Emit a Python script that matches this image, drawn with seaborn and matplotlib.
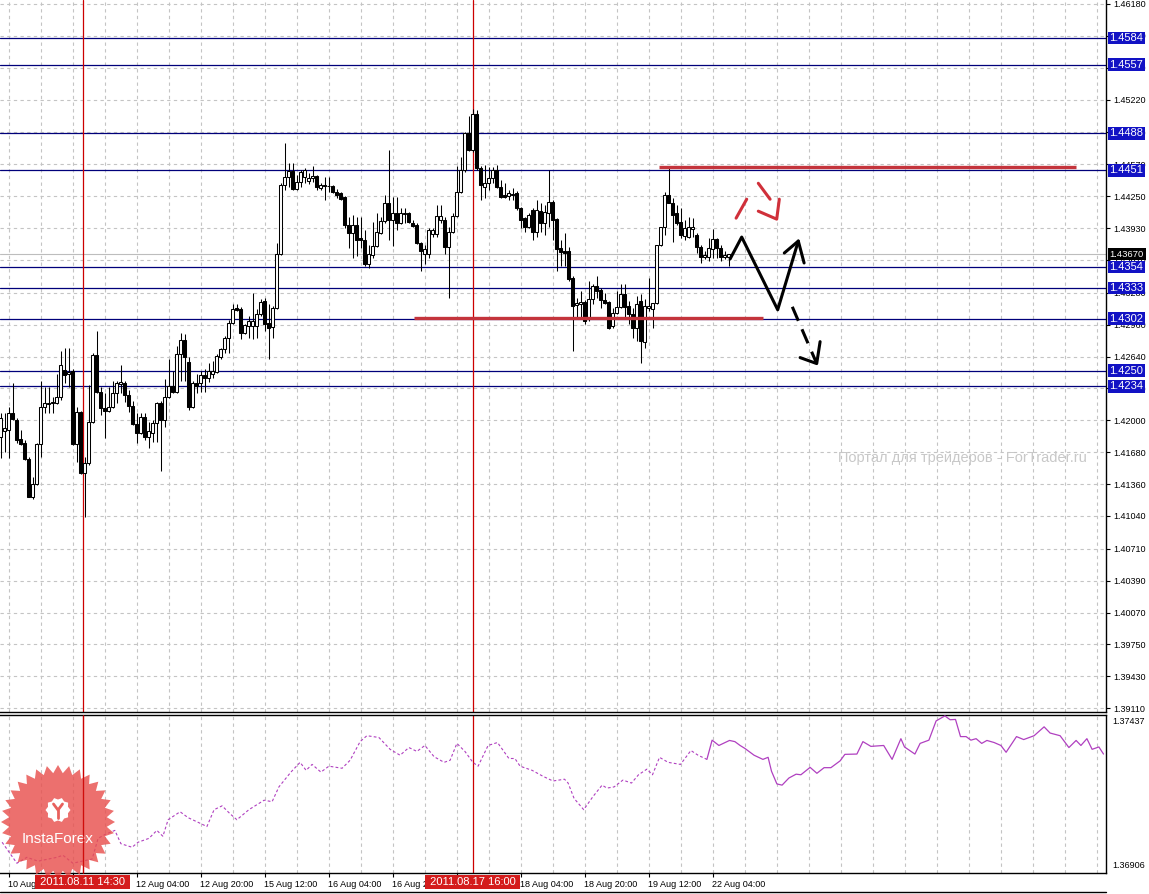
import numpy as np
import pandas as pd
import matplotlib
matplotlib.use("Agg")
import matplotlib.pyplot as plt
import matplotlib.transforms as mtrans
from matplotlib.patches import Polygon
from matplotlib.lines import Line2D
import seaborn as sns

sns.set_theme(style="white")
plt.rcParams['font.family'] = ['Liberation Sans', 'DejaVu Sans']

W, H = 1149, 894

# ---- H1 candles, one per bar (bar index 0 = 10 Aug 18:00) ----
bar_open = [
    1.4183, 1.4189, 1.4190, 1.4207, 1.4200, 1.4181, 1.4177, 1.4161, 1.4123, 1.4136,
    1.4176, 1.4213, 1.4216, 1.4217, 1.4217, 1.4223, 1.4251, 1.4247, 1.4250, 1.4176,
    1.4208, 1.4147, 1.4157, 1.4198, 1.4266, 1.4228, 1.4212, 1.4209, 1.4213, 1.4227,
    1.4236, 1.4237, 1.4225, 1.4214, 1.4196, 1.4187, 1.4203, 1.4183, 1.4187, 1.4197,
    1.4217, 1.4200, 1.4223, 1.4234, 1.4228, 1.4267, 1.4281, 1.4259, 1.4213, 1.4237,
    1.4237, 1.4246, 1.4243, 1.4247, 1.4249, 1.4264, 1.4272, 1.4283, 1.4298, 1.4313,
    1.4312, 1.4288, 1.4295, 1.4295, 1.4295, 1.4307, 1.4320, 1.4298, 1.4294, 1.4313,
    1.4367, 1.4436, 1.4444, 1.4450, 1.4432, 1.4439, 1.4444, 1.4440, 1.4443, 1.4445,
    1.4433, 1.4436, 1.4435, 1.4435, 1.4429, 1.4428, 1.4424, 1.4396, 1.4388, 1.4396,
    1.4383, 1.4381, 1.4357, 1.4366, 1.4375, 1.4388, 1.4400, 1.4418, 1.4401, 1.4408,
    1.4398, 1.4407, 1.4408, 1.4398, 1.4396, 1.4378, 1.4367, 1.4367, 1.4387, 1.4387,
    1.4401, 1.4401, 1.4374, 1.4389, 1.4405, 1.4429, 1.4451, 1.4488, 1.4471, 1.4508,
    1.4453, 1.4434, 1.4438, 1.4443, 1.4451, 1.4434, 1.4426, 1.4425, 1.4427, 1.4428,
    1.4413, 1.4403, 1.4394, 1.4411, 1.4389, 1.4410, 1.4398, 1.4408, 1.4419, 1.4402,
    1.4373, 1.4370, 1.4370, 1.4343, 1.4316, 1.4317, 1.4319, 1.4302, 1.4322, 1.4335,
    1.4331, 1.4321, 1.4319, 1.4295, 1.4308, 1.4314, 1.4327, 1.4315, 1.4307, 1.4293,
    1.4320, 1.4279, 1.4313, 1.4312, 1.4318, 1.4376, 1.4394, 1.4426, 1.4418, 1.4408,
    1.4399, 1.4385, 1.4384, 1.4392, 1.4386, 1.4374, 1.4364, 1.4364, 1.4372, 1.4382,
    1.4373, 1.4364, 1.4364,
]
bar_high = [
    1.4207, 1.4207, 1.4213, 1.4237, 1.4202, 1.4190, 1.4180, 1.4163, 1.4143, 1.4177,
    1.4240, 1.4233, 1.4233, 1.4223, 1.4247, 1.4270, 1.4273, 1.4273, 1.4252, 1.4213,
    1.4209, 1.4163, 1.4235, 1.4268, 1.4290, 1.4233, 1.4227, 1.4233, 1.4240, 1.4240,
    1.4256, 1.4239, 1.4230, 1.4219, 1.4207, 1.4207, 1.4207, 1.4198, 1.4200, 1.4218,
    1.4219, 1.4242, 1.4262, 1.4250, 1.4275, 1.4288, 1.4287, 1.4264, 1.4240, 1.4247,
    1.4250, 1.4252, 1.4258, 1.4260, 1.4267, 1.4273, 1.4285, 1.4301, 1.4317, 1.4317,
    1.4314, 1.4297, 1.4305, 1.4328, 1.4312, 1.4322, 1.4323, 1.4317, 1.4315, 1.4378,
    1.4438, 1.4478, 1.4458, 1.4458, 1.4446, 1.4451, 1.4453, 1.4448, 1.4455, 1.4446,
    1.4438, 1.4444, 1.4444, 1.4436, 1.4432, 1.4429, 1.4425, 1.4404, 1.4406, 1.4404,
    1.4404, 1.4391, 1.4376, 1.4399, 1.4408, 1.4404, 1.4426, 1.4471, 1.4424, 1.4424,
    1.4413, 1.4413, 1.4409, 1.4401, 1.4398, 1.4379, 1.4376, 1.4393, 1.4393, 1.4416,
    1.4416, 1.4404, 1.4394, 1.4408, 1.4455, 1.4464, 1.4489, 1.4506, 1.4513, 1.4512,
    1.4455, 1.4456, 1.4454, 1.4454, 1.4456, 1.4441, 1.4438, 1.4431, 1.4433, 1.4430,
    1.4414, 1.4404, 1.4408, 1.4413, 1.4421, 1.4418, 1.4416, 1.4451, 1.4421, 1.4403,
    1.4381, 1.4388, 1.4374, 1.4345, 1.4323, 1.4330, 1.4321, 1.4340, 1.4337, 1.4345,
    1.4333, 1.4328, 1.4320, 1.4313, 1.4330, 1.4337, 1.4337, 1.4320, 1.4313, 1.4325,
    1.4327, 1.4322, 1.4343, 1.4318, 1.4376, 1.4394, 1.4429, 1.4453, 1.4423, 1.4416,
    1.4413, 1.4401, 1.4404, 1.4403, 1.4388, 1.4376, 1.4370, 1.4383, 1.4392, 1.4383,
    1.4376, 1.4370, 1.4367,
]
bar_low = [
    1.4162, 1.4168, 1.4162, 1.4200, 1.4177, 1.4175, 1.4160, 1.4123, 1.4121, 1.4135,
    1.4163, 1.4207, 1.4207, 1.4207, 1.4216, 1.4220, 1.4237, 1.4233, 1.4175, 1.4158,
    1.4146, 1.4103, 1.4155, 1.4197, 1.4227, 1.4205, 1.4182, 1.4208, 1.4212, 1.4217,
    1.4227, 1.4218, 1.4208, 1.4195, 1.4177, 1.4186, 1.4180, 1.4172, 1.4178, 1.4178,
    1.4149, 1.4193, 1.4222, 1.4227, 1.4227, 1.4240, 1.4240, 1.4210, 1.4212, 1.4227,
    1.4228, 1.4228, 1.4238, 1.4243, 1.4248, 1.4262, 1.4268, 1.4268, 1.4297, 1.4310,
    1.4282, 1.4287, 1.4283, 1.4282, 1.4283, 1.4305, 1.4290, 1.4262, 1.4283, 1.4312,
    1.4366, 1.4431, 1.4434, 1.4431, 1.4431, 1.4434, 1.4438, 1.4437, 1.4439, 1.4431,
    1.4431, 1.4421, 1.4429, 1.4428, 1.4423, 1.4421, 1.4393, 1.4373, 1.4363, 1.4365,
    1.4373, 1.4355, 1.4353, 1.4363, 1.4374, 1.4387, 1.4398, 1.4381, 1.4375, 1.4391,
    1.4397, 1.4398, 1.4398, 1.4394, 1.4377, 1.4350, 1.4357, 1.4363, 1.4384, 1.4384,
    1.4398, 1.4367, 1.4323, 1.4388, 1.4404, 1.4428, 1.4449, 1.4470, 1.4469, 1.4451,
    1.4421, 1.4423, 1.4431, 1.4438, 1.4433, 1.4423, 1.4423, 1.4421, 1.4421, 1.4411,
    1.4393, 1.4389, 1.4393, 1.4381, 1.4384, 1.4389, 1.4386, 1.4394, 1.4381, 1.4350,
    1.4355, 1.4355, 1.4340, 1.4270, 1.4303, 1.4303, 1.4297, 1.4300, 1.4317, 1.4323,
    1.4313, 1.4317, 1.4292, 1.4293, 1.4307, 1.4313, 1.4303, 1.4297, 1.4283, 1.4280,
    1.4258, 1.4273, 1.4310, 1.4293, 1.4317, 1.4375, 1.4386, 1.4418, 1.4379, 1.4396,
    1.4383, 1.4381, 1.4383, 1.4384, 1.4368, 1.4358, 1.4362, 1.4360, 1.4363, 1.4363,
    1.4360, 1.4362, 1.4355,
]
bar_close = [
    1.4202, 1.4192, 1.4207, 1.4201, 1.4180, 1.4176, 1.4161, 1.4123, 1.4136, 1.4176,
    1.4213, 1.4217, 1.4217, 1.4218, 1.4223, 1.4256, 1.4246, 1.4249, 1.4176, 1.4208,
    1.4147, 1.4157, 1.4198, 1.4266, 1.4228, 1.4212, 1.4209, 1.4213, 1.4227, 1.4237,
    1.4238, 1.4225, 1.4214, 1.4196, 1.4187, 1.4203, 1.4183, 1.4189, 1.4197, 1.4217,
    1.4200, 1.4223, 1.4234, 1.4228, 1.4267, 1.4281, 1.4264, 1.4213, 1.4237, 1.4234,
    1.4246, 1.4243, 1.4250, 1.4250, 1.4265, 1.4272, 1.4283, 1.4298, 1.4312, 1.4311,
    1.4288, 1.4296, 1.4300, 1.4300, 1.4307, 1.4319, 1.4297, 1.4293, 1.4313, 1.4367,
    1.4436, 1.4444, 1.4450, 1.4432, 1.4439, 1.4449, 1.4451, 1.4443, 1.4445, 1.4434,
    1.4436, 1.4435, 1.4435, 1.4429, 1.4426, 1.4422, 1.4396, 1.4388, 1.4396, 1.4381,
    1.4381, 1.4357, 1.4367, 1.4375, 1.4389, 1.4400, 1.4418, 1.4401, 1.4408, 1.4398,
    1.4408, 1.4408, 1.4399, 1.4395, 1.4378, 1.4370, 1.4372, 1.4391, 1.4391, 1.4405,
    1.4405, 1.4374, 1.4389, 1.4405, 1.4429, 1.4451, 1.4488, 1.4471, 1.4508, 1.4453,
    1.4436, 1.4438, 1.4443, 1.4451, 1.4434, 1.4424, 1.4424, 1.4428, 1.4426, 1.4413,
    1.4401, 1.4394, 1.4406, 1.4389, 1.4411, 1.4398, 1.4409, 1.4419, 1.4401, 1.4372,
    1.4369, 1.4368, 1.4342, 1.4315, 1.4318, 1.4319, 1.4300, 1.4322, 1.4335, 1.4330,
    1.4321, 1.4318, 1.4293, 1.4308, 1.4314, 1.4327, 1.4314, 1.4307, 1.4293, 1.4317,
    1.4280, 1.4315, 1.4315, 1.4318, 1.4376, 1.4394, 1.4426, 1.4418, 1.4406, 1.4398,
    1.4386, 1.4393, 1.4394, 1.4394, 1.4374, 1.4364, 1.4366, 1.4373, 1.4382, 1.4373,
    1.4364, 1.4366, 1.4367,
]

# horizontal levels drawn by the trader
level_lines = [1.4584, 1.4557, 1.4488, 1.4451, 1.4354, 1.4333, 1.4302, 1.4250, 1.4234]
last_price = 1.4367
price_ticks = [1.46180, 1.45860, 1.45540, 1.45220, 1.44890, 1.44570, 1.44250, 1.43930,
               1.43610, 1.43280, 1.42960, 1.42640, 1.42320, 1.42000, 1.41680, 1.41360,
               1.41040, 1.40710, 1.40390, 1.40070, 1.39750, 1.39430, 1.39110]

time_bars = [2, 18, 34, 50, 66, 82, 98, 114, 130, 146, 162, 178]
time_labels = ["10 Aug 20:00", "11 Aug 12:00", "12 Aug 04:00", "12 Aug 20:00",
               "15 Aug 12:00", "16 Aug 04:00", "16 Aug 20:00", "17 Aug 12:00",
               "18 Aug 04:00", "18 Aug 20:00", "19 Aug 12:00", "22 Aug 04:00"]
event_bars = [20.5, 118]
event_labels = ["2011.08.11 14:30", "2011.08.17 16:00"]

# red support / resistance segments
support_bars = [103.4, 190.6]
support_price = 1.4303
resist_bars = [164.6, 268.9]
resist_price = 1.4454

# hand-drawn forecast path
path_bar = [182.4, 185.3, 194.3, 199.45]
path_price = [1.4362, 1.4384, 1.4311, 1.4380]
path_head_bar = [195.95, 199.45, 200.9]
path_head_price = [1.4368, 1.4380, 1.4358]
dash_bar = [197.95, 204.05]
dash_price = [1.4314, 1.4257]
dash_head_bar = [199.9, 204.05, 204.9]
dash_head_price = [1.4263, 1.4257, 1.4279]
red_tick_bar = [183.9, 186.55]
red_tick_price = [1.4403, 1.4422]
red_arrow_bar = [189.45, 192.4]
red_arrow_price = [1.4438, 1.4422]
red_head_bar = [189.45, 194.05, 194.7]
red_head_price = [1.4410, 1.4402, 1.4422]

# lower pane: overlay instrument
ind_dash_bar = [0.4, 4.1, 6.6, 9.4, 14.1, 15.6, 18.1, 20.4, 22.9, 24.4, 26.1, 28.6, 30.1,
                32.9, 34.4, 37.1, 39.1, 40.6, 41.9, 44.9, 46.9, 49.6, 51.6, 53.4, 55.4,
                57.4, 59.1, 62.1, 65.9, 67.9, 69.6, 72.6, 74.9, 76.4, 77.9, 80.1, 82.1,
                85.4, 87.4, 89.9, 91.6, 94.6, 97.4, 99.9, 102.1, 104.1, 106.1, 108.4,
                110.9, 112.4, 114.1, 116.1, 118.1, 119.4, 121.9, 124.25, 127.1, 128.6,
                129.9, 132.9, 135.6, 138.1, 141.0, 141.9, 143.4, 145.8, 148.1, 150.4,
                151.6, 153.4, 155.6, 157.75, 159.5, 161.6, 163.0, 164.75, 166.9, 170.0,
                172.6, 174.4, 176.6]
ind_dash_val = [1.37010, 1.36939, 1.36959, 1.36946, 1.36959, 1.36966, 1.36939, 1.36946,
                1.36953, 1.37023, 1.37036, 1.37050, 1.37005, 1.36993, 1.37010, 1.37023,
                1.37050, 1.37030, 1.37086, 1.37113, 1.37093, 1.37076, 1.37063, 1.37120,
                1.37133, 1.37106, 1.37086, 1.37120, 1.37152, 1.37147, 1.37197, 1.37247,
                1.37280, 1.37253, 1.37273, 1.37247, 1.37267, 1.37260, 1.37287, 1.37350,
                1.37370, 1.37364, 1.37324, 1.37304, 1.37330, 1.37317, 1.37337, 1.37299,
                1.37280, 1.37287, 1.37344, 1.37317, 1.37280, 1.37267, 1.37337, 1.37347,
                1.37293, 1.37293, 1.37267, 1.37253, 1.37233, 1.37217, 1.37223, 1.37210,
                1.37158, 1.37120, 1.37164, 1.37203, 1.37193, 1.37197, 1.37220, 1.37210,
                1.37238, 1.37257, 1.37238, 1.37297, 1.37280, 1.37273, 1.37320, 1.37304,
                1.37290]
ind_solid_bar = [176.6, 177.9, 179.6, 182.25, 183.6, 184.9, 186.1, 188.4, 190.6, 191.9,
                 192.75, 194.1, 195.4, 197.1, 198.9, 200.1, 202.4, 204.1, 205.9, 207.6,
                 209.9, 211.1, 214.1, 215.6, 217.6, 220.8, 222.9, 225.1, 226.0, 228.6,
                 229.9, 232.1, 233.9, 236.1, 237.4, 238.75, 240.0, 241.4, 242.6, 243.9,
                 245.3, 246.6, 248.4, 250.1, 251.4, 254.0, 255.8, 258.4, 260.9, 262.4,
                 264.9, 267.1, 268.9, 270.1, 271.6, 272.9, 274.6, 275.75]
ind_solid_val = [1.37290, 1.37355, 1.37337, 1.37354, 1.37350, 1.37337, 1.37327, 1.37304,
                 1.37290, 1.37297, 1.37250, 1.37207, 1.37203, 1.37227, 1.37240, 1.37238,
                 1.37263, 1.37243, 1.37262, 1.37262, 1.37285, 1.37307, 1.37308, 1.37350,
                 1.37334, 1.37337, 1.37290, 1.37360, 1.37332, 1.37308, 1.37344, 1.37355,
                 1.37420, 1.37437, 1.37424, 1.37425, 1.37367, 1.37367, 1.37355, 1.37360,
                 1.37344, 1.37354, 1.37347, 1.37337, 1.37314, 1.37367, 1.37357, 1.37370,
                 1.37400, 1.37379, 1.37370, 1.37330, 1.37354, 1.37337, 1.37360, 1.37324,
                 1.37332, 1.37308]
ind_top, ind_bottom = 1.37437, 1.36906

df = pd.DataFrame({'open': bar_open, 'high': bar_high, 'low': bar_low, 'close': bar_close})
df['bar'] = np.arange(len(df))
up = df['close'] >= df['open']

GRID = '#c4c4c4'
LEVEL = '#00007a'
RED = '#cc0000'
XLIM = (-0.125, 276.375)

fig = plt.figure(figsize=(W / 100, H / 100), dpi=100)
fig.patch.set_facecolor('white')
ax = fig.add_axes([0, (H - 712) / H, 1106 / W, 712 / H])
ax2 = fig.add_axes([0, 21 / H, 1106 / W, 158 / H])
fig_x = mtrans.blended_transform_factory(fig.transFigure, ax.transData)

# --- main pane ---
ax.set_xlim(*XLIM)
ax.set_ylim(1.39072, 1.4622)
for p in price_ticks:
    ax.axhline(p, color=GRID, lw=0.8, ls=(0, (3, 3)), zorder=1)
for k in np.arange(2, 277, 8):
    ax.axvline(k, color=GRID, lw=0.8, ls=(0, (3, 3)), zorder=1)
    ax2.axvline(k, color=GRID, lw=0.8, ls=(0, (3, 3)), zorder=1)

ax.axhline(last_price, color='#bdbdbd', lw=0.8, zorder=1.5)
for lv in level_lines:
    ax.axhline(lv, color=LEVEL, lw=0.9, zorder=2)
    ax.text(1109.5 / W, lv, f"{lv:.4f}", transform=fig_x, fontsize=8, color='white',
            ha='left', va='center', zorder=10, clip_on=False,
            bbox=dict(boxstyle='square,pad=0.12', fc='#1212c4', ec='none'))
ax.text(1109.5 / W, last_price, f"{last_price:.5f}", transform=fig_x, fontsize=6.8,
        color='white', ha='left', va='center', zorder=11, clip_on=False,
        bbox=dict(boxstyle='square,pad=0.2', fc='black', ec='none'))

for k in event_bars:
    ax.axvline(k, color=RED, lw=0.9, zorder=2.5)
    ax2.axvline(k, color=RED, lw=0.9, zorder=2.5)

# candles
ax.vlines(df['bar'], df['low'], df['high'], color='black', lw=0.75, zorder=3)
ax.bar(df['bar'][up], (df['close'] - df['open'])[up], bottom=df['open'][up], width=0.55,
       color='white', edgecolor='black', lw=0.75, zorder=4)
ax.bar(df['bar'][~up], (df['open'] - df['close'])[~up], bottom=df['close'][~up], width=0.55,
       color='black', edgecolor='black', lw=0.75, zorder=4)

# annotations
ax.hlines(support_price, *support_bars, color='#c4343c', lw=2.4, zorder=5)
ax.hlines(resist_price, *resist_bars, color='#c4343c', lw=2.4, zorder=5)
ax.plot(path_bar, path_price, color='black', lw=2.2, zorder=6)
ax.plot(path_head_bar, path_head_price, color='black', lw=2.2, zorder=6)
ax.plot(dash_bar, dash_price, color='black', lw=2.2, ls=(0, (5, 3)), zorder=6)
ax.plot(dash_head_bar, dash_head_price, color='black', lw=2.2, zorder=6)
ax.plot(red_tick_bar, red_tick_price, color='#d0303a', lw=2.2, zorder=6)
ax.plot(red_arrow_bar, red_arrow_price, color='#d0303a', lw=2.2, zorder=6)
ax.plot(red_head_bar, red_head_price, color='#d0303a', lw=2.2, zorder=6)

ax.text(838 / 1106, 1 - 458 / 712, "Портал для трейдеров - ForTrader.ru",
        transform=ax.transAxes, color='#c8c8c8', fontsize=10.5, ha='left', va='center')

ax.yaxis.tick_right()
ax.set_yticks(price_ticks)
ax.set_yticklabels([f"{p:.5f}" for p in price_ticks], fontsize=6.5, color='black')
ax.tick_params(axis='y', right=True, left=False, length=3, width=0.8, pad=2, color='black')
ax.set_xticks([])
for side in ['left', 'top']:
    ax.spines[side].set_visible(False)
for side in ['right', 'bottom']:
    ax.spines[side].set_color('black')
    ax.spines[side].set_linewidth(1.0)

# --- lower pane ---
sns.lineplot(x=ind_dash_bar, y=ind_dash_val, ax=ax2, color='#b040c0', lw=0.8,
             linestyle=(0, (2.5, 2)), zorder=3)
sns.lineplot(x=ind_solid_bar, y=ind_solid_val, ax=ax2, color='#b040c0', lw=0.9, zorder=3)
ax2.set_xlim(*XLIM)
ax2.set_ylim(ind_bottom, 1.37440)
ax2.set_yticks([])
ax2.set_ylabel('')
ax2.set_xticks(time_bars)
ax2.set_xticklabels(time_labels, fontsize=6.5, color='black', ha='left')
ax2.tick_params(axis='x', bottom=True, length=3, width=0.8, pad=2, color='black')
ax2.spines['left'].set_visible(False)
for side in ['right', 'bottom', 'top']:
    ax2.spines[side].set_color('black')
    ax2.spines[side].set_linewidth(1.0)
fig_x2 = mtrans.blended_transform_factory(fig.transFigure, ax2.transAxes)
ax2.text(1112 / W, 0.985, f"{ind_top:.5f}", transform=fig_x2, fontsize=6.5, color='black',
         ha='left', va='top', clip_on=False)
ax2.text(1112 / W, 0.045, f"{ind_bottom:.5f}", transform=fig_x2, fontsize=6.5, color='black',
         ha='left', va='center', clip_on=False)

fig.add_artist(Line2D([0, 1106 / W], [2 / H, 2 / H], color='black', lw=1.0,
                      transform=fig.transFigure))

# --- InstaForex badge overlay ---
lax = fig.add_axes([(58 - 65) / W, (H - 822 - 65) / H, 130 / W, 130 / H])
lax.set_xlim(-65, 65)
lax.set_ylim(-65, 65)
lax.axis('off')
lax.set_zorder(20)
ang = np.linspace(0, 2 * np.pi, 64, endpoint=False) + np.pi / 2
rad = np.where(np.arange(64) % 2 == 0, 57, 49)
lax.add_patch(Polygon(np.c_[rad * np.cos(ang), rad * np.sin(ang)], closed=True,
                      fc='#e8504e', ec='none', alpha=0.82))
ga = np.linspace(0, 2 * np.pi, 20, endpoint=False)
gr = np.where(np.arange(20) % 2 == 0, 12.5, 10.5)
lax.add_patch(Polygon(np.c_[gr * np.cos(ga), 12 + gr * np.sin(ga)], closed=True,
                      fc='white', ec='none'))
lax.plot([-4.5, 0, 4.5], [18, 12, 18], color='#e8605c', lw=2)
lax.plot([0, 0], [12, 4], color='#e8605c', lw=2)
lax.text(0, -17, "InstaForex", color='white', fontsize=11, ha='center', va='center')

# the first marker line shows through the badge
mark_tr = mtrans.blended_transform_factory(ax2.transData, fig.transFigure)
fig.add_artist(Line2D([event_bars[0], event_bars[0]], [21 / H, (H - 715) / H], color=RED,
                      lw=0.9, alpha=0.8, transform=mark_tr, zorder=25))

# date boxes of the two vertical markers sit on top of everything
for k, lab in zip(event_bars, event_labels):
    fig.text(k, 12 / H, f" {lab} ", transform=mark_tr, fontsize=8, color='white',
             ha='center', va='center', zorder=30,
             bbox=dict(boxstyle='square,pad=0.14', fc='#d41c1c', ec='none'))

fig.savefig('out.png', dpi=100)
